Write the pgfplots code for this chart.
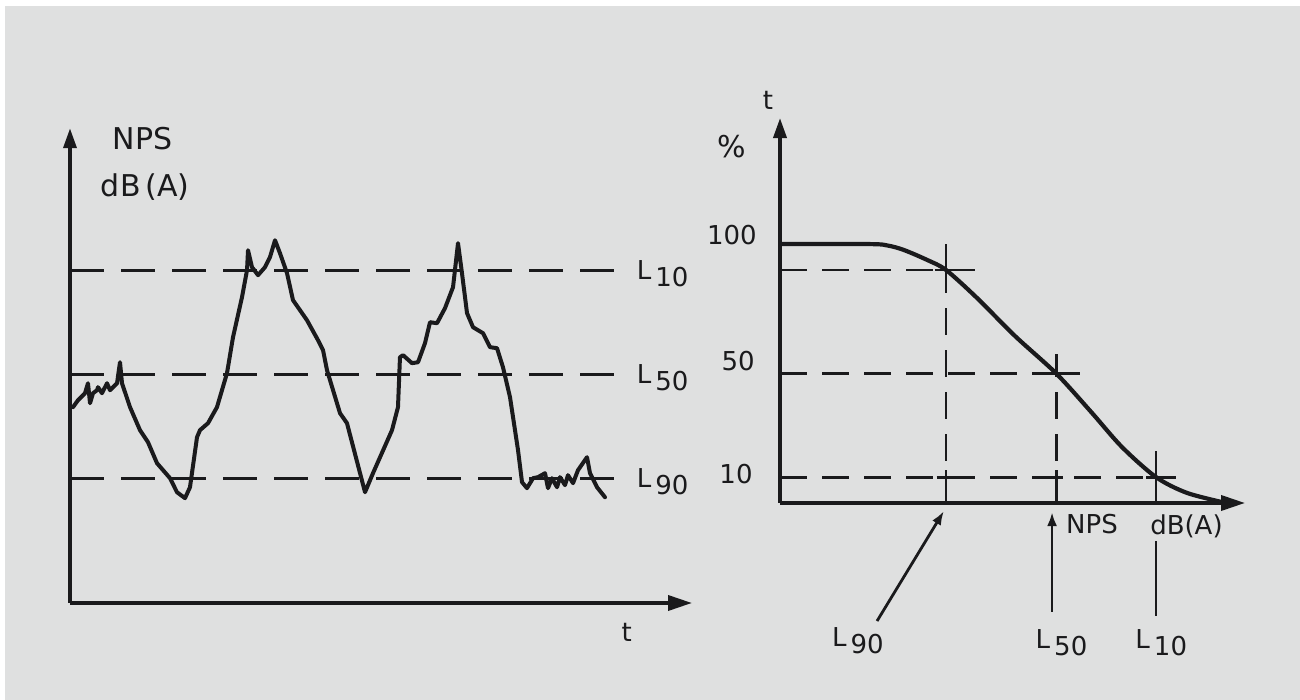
\documentclass[border=0pt]{standalone}
\usepackage{pgfplots}
\pgfplotsset{compat=1.18}
\usetikzlibrary{arrows.meta}
\usepackage{fontspec}
\setmainfont{DejaVu Sans}

\definecolor{paper}{RGB}{223,224,224}
\definecolor{ink}{RGB}{26,26,28}

\tikzset{
  lbl/.style={text=ink, font=\fontsize{13}{15}\selectfont},
  big/.style={text=ink, font=\fontsize{15}{17}\selectfont},
}
\newcommand{\Lsub}[1]{L\hspace{2pt}\raisebox{-3.5pt}{#1}}

\begin{document}
\begin{tikzpicture}
\useasboundingbox (0,0) rectangle (650pt,350pt);
\fill[paper] (0,0) rectangle (650pt,350pt);
\fill[white] (0,347pt) rectangle (650pt,350pt);
\fill[white] (0,0) rectangle (2.5pt,350pt);

% left: sound level against time
\begin{axis}[
  at={(35pt,48.5pt)}, anchor=south west,
  x=3.11pt, y=5.2pt,
  xmin=0, xmax=100, ymin=38, ymax=83.65,
  axis lines=left,
  axis line style={ink, line width=1.8pt},
  x axis line style={-{Triangle[length=12pt,width=7.5pt]}},
  y axis line style={-{Triangle[length=10pt,width=6.5pt]}},
  xtick=\empty, ytick=\empty, clip=false,
]
\addplot[ink, line width=1.5pt, dash pattern=on 17pt off 8.5pt]
  coordinates {(0,70) (87.5,70)};
\addplot[ink, line width=1.5pt, dash pattern=on 17pt off 8.5pt]
  coordinates {(0,60) (87.5,60)};
\addplot[ink, line width=1.5pt, dash pattern=on 17pt off 8.5pt]
  coordinates {(0,50) (87.5,50)};

\addplot[ink, line width=2pt, line join=round, line cap=round] coordinates {
 (0.48,56.83) (1.29,57.50) (2.41,58.17) (2.89,59.13) (3.22,57.21) (3.70,58.17)
 (4.34,58.46) (4.50,58.75) (5.14,58.17) (5.95,59.13) (6.43,58.46) (7.56,59.13)
 (8.04,61.15) (8.36,59.13) (9.65,56.83) (11.25,54.62) (12.54,53.46) (13.99,51.44)
 (16.08,50.00) (17.20,48.65) (18.49,48.08) (19.29,49.13) (20.42,53.94) (20.90,54.62)
 (22.19,55.29) (23.63,56.83) (25.24,60.10) (26.21,63.56) (27.65,67.40) (28.46,70.00)
 (28.62,71.92) (29.26,70.29) (30.23,69.52) (31.35,70.29) (32.15,71.25) (32.96,72.88)
 (33.76,71.63) (34.89,69.71) (35.85,67.12) (38.10,65.19) (39.87,63.27) (40.68,62.31)
 (41.32,60.38) (43.41,56.25) (44.53,55.29) (47.43,48.65) (48.71,50.48) (51.77,54.62)
 (52.73,56.83) (53.05,61.63) (53.54,61.83) (54.98,61.06) (55.95,61.15) (57.07,62.98)
 (57.88,65.00) (59.00,64.90) (60.29,66.35) (61.58,68.37) (62.38,72.60) (63.02,69.71)
 (63.83,65.87) (64.79,64.52) (66.40,63.94) (67.52,62.60) (68.65,62.50) (69.61,60.67)
 (70.74,57.79) (72.03,52.69) (72.67,49.62) (73.47,49.04) (74.44,50.00) (75.24,50.10)
 (76.37,50.48) (76.85,49.04) (77.49,50.00) (78.30,49.13) (78.78,50.10) (79.58,49.33)
 (80.06,50.29) (80.87,49.52) (81.67,50.77) (83.12,52.02) (83.60,50.48) (84.73,49.13)
 (86.01,48.17)
};

\node[lbl, anchor=base west, yshift=-4.5pt] at (axis cs:90.0,70) {\Lsub{10}};
\node[lbl, anchor=base west, yshift=-4.5pt] at (axis cs:90.0,60) {\Lsub{50}};
\node[lbl, anchor=base west, yshift=-4.5pt] at (axis cs:90.0,50) {\Lsub{90}};
\node[big] at (axis cs:11.7,82.7) {NPS};
\node[big] at (axis cs:12.1,78.0) {dB\,(A)};
\node[lbl] at (axis cs:89.5,35.2) {t};
\end{axis}

% right: cumulative distribution of the level
\begin{axis}[
  at={(390pt,98.5pt)}, anchor=south west,
  x=5.25pt, y=1.2945pt,
  xmin=34.19, xmax=78.48, ymin=0, ymax=148.7,
  axis lines=left,
  axis line style={ink, line width=1.8pt},
  x axis line style={-{Triangle[length=12pt,width=7.5pt]}},
  y axis line style={-{Triangle[length=10pt,width=6.5pt]}},
  xtick=\empty, ytick=\empty, clip=false,
]
% guide lines
\addplot[ink, line width=1.4pt, dash pattern=on 13.5pt off 7.5pt]
  coordinates {(34.19,90) (50,90)};
\addplot[ink, line width=1.4pt, dash pattern=on 13.5pt off 7.5pt]
  coordinates {(34.19,50) (60.5,50)};
\addplot[ink, line width=1.4pt, dash pattern=on 13.5pt off 7.5pt]
  coordinates {(34.19,10) (69,10)};
\addplot[ink, line width=1.4pt, dash pattern=on 13.5pt off 7.5pt]
  coordinates {(50,0) (50,90)};
\addplot[ink, line width=1.4pt, dash pattern=on 13.5pt off 7.5pt]
  coordinates {(60.5,0) (60.5,50)};
% crosses
\addplot[ink, line width=1.4pt] coordinates {(48.95,90) (52.76,90)};
\addplot[ink, line width=1.4pt] coordinates {(50,90) (50,100.2)};
\addplot[ink, line width=1.4pt] coordinates {(58.4,50) (62.8,50)};
\addplot[ink, line width=1.4pt] coordinates {(60.5,50) (60.5,57.7)};
\addplot[ink, line width=1.4pt] coordinates {(69.05,10) (71.9,10)};
\addplot[ink, line width=1.4pt] coordinates {(70,0) (70,20)};
\addplot[ink, line width=1.4pt] coordinates {(50,0) (50,12.7)};
\addplot[ink, line width=1.4pt] coordinates {(49.1,10) (51.1,10)};
\addplot[ink, line width=1.4pt] coordinates {(60.5,0) (60.5,12.7)};
\addplot[ink, line width=1.4pt] coordinates {(59.1,10) (61.1,10)};

\addplot[ink, line width=2.1pt, smooth, tension=0.5] coordinates {
 (34.19,100) (42.76,100) (44.5,99.4) (46.0,97.7) (48.19,93.9) (50,90)
 (52.95,79.2) (56.57,64.5) (60.5,50) (63.9,34.8) (66.76,21.6) (70,10)
 (72.95,3.9) (76.67,0)
};

% pointers below the axis
\draw[ink, line width=1.4pt, -{Latex[length=7pt,width=5pt]}]
  (axis cs:43.43,-45.6) -- (axis cs:49.8,-3.1);
\draw[ink, line width=1.4pt, -{Latex[length=7pt,width=5pt]}]
  (axis cs:60.1,-42.1) -- (axis cs:60.1,-3.5);
\draw[ink, line width=1.4pt] (axis cs:70,-14.7) -- (axis cs:70,-43.6);

\node[lbl] at (axis cs:41.6,-53.3) {\Lsub{90}};
\node[lbl] at (axis cs:61.0,-54.1) {\Lsub{50}};
\node[lbl] at (axis cs:70.5,-54.1) {\Lsub{10}};
\node[lbl] at (axis cs:63.9,-8.3) {NPS};
\node[lbl] at (axis cs:72.9,-8.9) {dB(A)};

\node[lbl] at (axis cs:33.05,155.7) {t};
\node[big] at (axis cs:29.6,137.5) {\%};
\node[lbl] at (axis cs:29.6,103.5) {100};
\node[lbl] at (axis cs:30.2,54.8) {50};
\node[lbl] at (axis cs:30.0,11.2) {10};
\end{axis}
\end{tikzpicture}
\end{document}
